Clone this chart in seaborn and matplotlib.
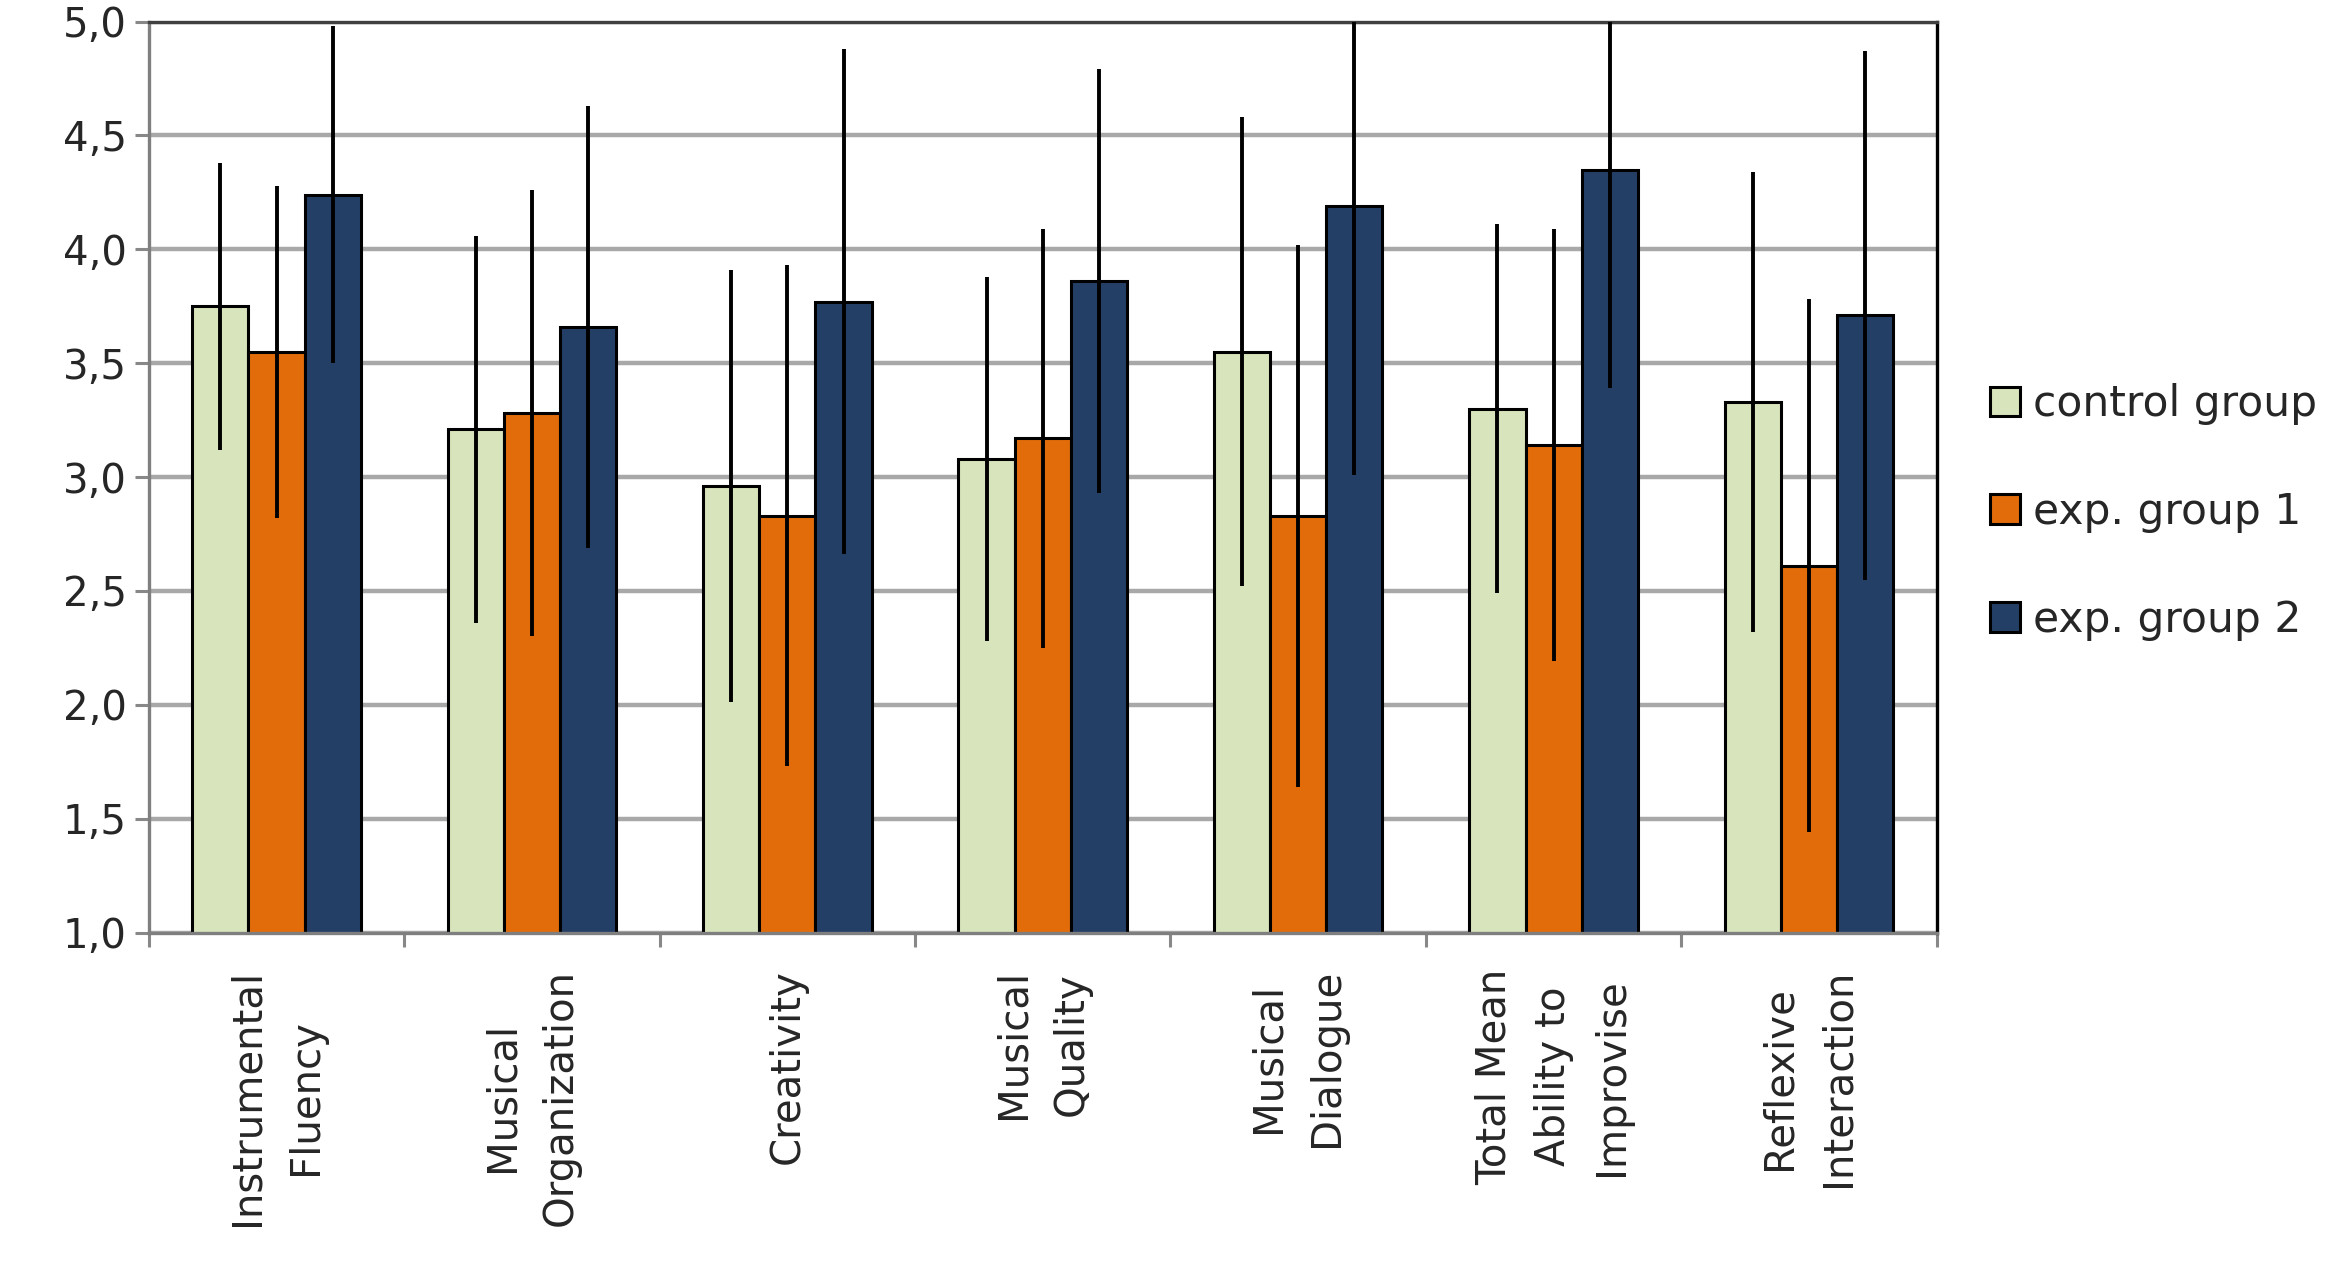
import pandas as pd
import matplotlib
matplotlib.use("Agg")
import matplotlib.pyplot as plt
import seaborn as sns
from matplotlib.ticker import FuncFormatter, FixedLocator

# data
categories = ["Instrumental\nFluency", "Musical\nOrganization", "Creativity",
              "Musical\nQuality", "Musical\nDialogue", "Total Mean\nAbility to\nImprovise",
              "Reflexive\nInteraction"]
groups = ["control group", "exp. group 1", "exp. group 2"]

control_mean = [3.75, 3.21, 2.96, 3.08, 3.55, 3.30, 3.33]
exp1_mean = [3.55, 3.28, 2.83, 3.17, 2.83, 3.14, 2.61]
exp2_mean = [4.24, 3.66, 3.77, 3.86, 4.19, 4.35, 3.71]

control_sd = [0.63, 0.85, 0.95, 0.80, 1.03, 0.81, 1.01]
exp1_sd = [0.73, 0.98, 1.10, 0.92, 1.19, 0.95, 1.17]
exp2_sd = [0.74, 0.97, 1.11, 0.93, 1.18, 0.96, 1.16]

colors = ["#d8e4bc", "#e36c0a", "#243f66"]

df = pd.DataFrame({
    "category": categories * 3,
    "group": [g for g in groups for _ in categories],
    "mean": control_mean + exp1_mean + exp2_mean,
    "sd": control_sd + exp1_sd + exp2_sd,
})

sns.set_style("white")
plt.rcParams['font.family'] = ['DejaVu Sans']

fig = plt.figure(figsize=(23.25, 12.67), dpi=100)
ax = fig.add_axes([0.064, 0.264, 0.769, 0.719])

sns.barplot(data=df, x="category", y="mean", hue="group", order=categories,
            hue_order=groups, palette=colors, saturation=1, width=0.66, gap=0,
            errorbar=None, edgecolor="black", linewidth=2.2, ax=ax, zorder=2)

# error bars (no caps) on top of each bar
for cont, g in zip(ax.containers, groups):
    sub = df[df["group"] == g].set_index("category").loc[categories]
    xs = [p.get_x() + p.get_width() / 2 for p in cont.patches]
    ax.errorbar(xs, sub["mean"], yerr=sub["sd"], fmt="none", ecolor="black",
                elinewidth=2.8, capsize=0, zorder=3)

ax.set_ylim(1, 5)
ax.set_xlim(-0.5, len(categories) - 0.5)
ax.set_yticks([1, 1.5, 2, 2.5, 3, 3.5, 4, 4.5, 5])
ax.yaxis.set_major_formatter(FuncFormatter(lambda v, p: f"{v:.1f}".replace(".", ",")))
ax.grid(axis="y", color="#a8a8a8", linewidth=3.2, zorder=0)
ax.set_axisbelow(True)

ax.set_xlabel("")
ax.set_ylabel("")
ax.set_xticks(range(len(categories)))
ax.set_xticklabels(categories, rotation=90, va="top", ha="center",
                   multialignment="center", fontsize=29, linespacing=1.6)
ax.xaxis.set_minor_locator(FixedLocator([i - 0.5 for i in range(len(categories) + 1)]))
ax.tick_params(axis="x", which="major", bottom=True, length=0, pad=26)
ax.tick_params(axis="x", which="minor", bottom=True, length=10, width=2.2,
               color="#888888", direction="out")
ax.tick_params(axis="y", left=True, length=10, width=2.2, color="#888888",
               direction="out", labelsize=29, pad=6)

ax.spines["left"].set_color("#7f7f7f")
ax.spines["bottom"].set_color("#7f7f7f")
ax.spines["top"].set_color("#404040")
ax.spines["right"].set_color("#000000")
for s in ax.spines.values():
    s.set_linewidth(2.4)
    s.set_visible(True)

ax.get_legend().remove()
handles = [plt.Rectangle((0, 0), 1, 1, facecolor=c, edgecolor="black", linewidth=2.2)
           for c in colors]
fig.legend(handles, groups, loc="center left", bbox_to_anchor=(0.856, 0.596),
           frameon=False, fontsize=30.5, handlelength=0.7, handleheight=0.7,
           handletextpad=0.3, labelspacing=1.55, borderpad=0, borderaxespad=0)

fig.savefig("out.png", dpi=100)
